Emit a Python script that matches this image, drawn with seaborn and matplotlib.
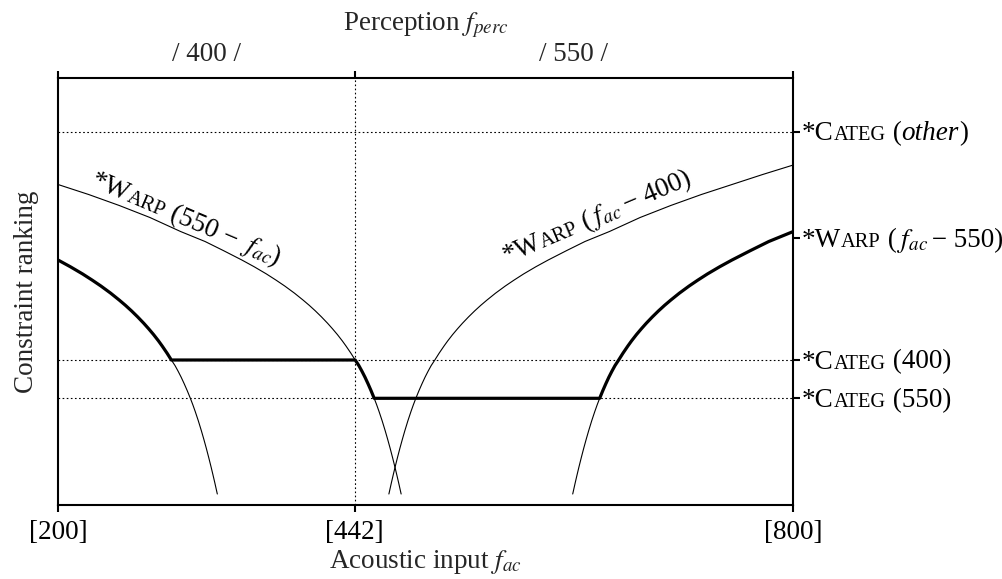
import numpy as np
import pandas as pd
import matplotlib
matplotlib.use("Agg")
import matplotlib.pyplot as plt
import seaborn as sns
from matplotlib.transforms import Affine2D, blended_transform_factory

# ---------------- data ----------------
# *WARP ranking as a function of the distance |f_ac - category| (Hz)
warp_distance = [70, 71, 72, 73.5, 75, 77, 79, 81, 83, 85.5, 88, 90, 92,
                 94.5, 97, 99.5, 102, 104.5, 107.5,
                 111, 115, 118, 122, 126, 130, 135, 140, 145, 150, 157, 165,
                 172, 180, 190, 200, 215, 230, 250, 275, 300, 325, 350, 375, 400]
warp_rank = [11, 16.5, 22, 29.9, 37.6, 47.4, 56.8, 65.7, 74.2, 84.2, 93.4, 100.3, 106.7,
             114.2, 121.2, 127.8, 133.8, 139.4, 145,
             151.8, 159, 164.1, 170.4, 176.2, 181.7, 188.1, 194.1, 199.7, 204.9, 211.8, 219,
             224.8, 231.1, 238.3, 245, 254.4, 263.5, 273.5, 287.5, 299.5, 310.5, 320.5, 330.5, 340]

categ_other = 373.3
categ_400 = 145
categ_550 = 106.7
warp_550_tick = 266.7

f_min, f_max = 200, 800
boundary = 442
categories = [400, 550]
x_tick_values = [200, 442, 800]
x_tick_labels = ["[200]", "[442]", "[800]"]

# ---------------- style ----------------
sns.set_theme(style="ticks")
plt.rcParams["font.family"] = ["Liberation Serif", "DejaVu Serif"]
plt.rcParams["mathtext.fontset"] = "stix"
FS = 19.5
SC = 0.75

W, H = 1003, 579
fig = plt.figure(figsize=(W / 100, H / 100), dpi=100)
fig.patch.set_facecolor("white")
ax = fig.add_axes([58 / W, (H - 505) / H, (793.3 - 58) / W, (505 - 78.3) / H])
ax.set_facecolor("white")

d = np.array(warp_distance, dtype=float)
r = np.array(warp_rank, dtype=float)

def curve(center, sign, dmax):
    m = d <= dmax
    f = center + sign * d[m]
    rr = r[m]
    o = np.argsort(f)
    return pd.DataFrame({"f": f[o], "rank": rr[o]})

thin_curves = [
    curve(550, -1, 550 - f_min),
    curve(400, -1, 400 - f_min),
    curve(400, +1, f_max - 400),
    curve(550, +1, f_max - 550),
]

dot = (0, (1.5, 2.2))
for lvl in [categ_other, categ_400, categ_550]:
    ax.axhline(lvl, color="black", lw=0.8, ls=dot, zorder=1)
ax.axvline(boundary, color="black", lw=0.8, ls=dot, zorder=1)

for c in thin_curves:
    sns.lineplot(data=c, x="f", y="rank", ax=ax, color="black", lw=0.8,
                 estimator=None, sort=False, zorder=2)

# optimal (winning) ranking path: thick line
d400 = d[r == categ_400][0]
d550 = d[r == categ_550][0]
m1 = (d >= d400) & (d <= 400 - f_min)
m2 = (d >= d550) & (d <= d400)
m3 = (d >= d550) & (d <= f_max - 550)
seg1 = pd.DataFrame({"f": 400 - d[m1], "rank": r[m1]})
seg2 = pd.DataFrame({"f": 550 - d[m2], "rank": r[m2]})
seg3 = pd.DataFrame({"f": 550 + d[m3], "rank": r[m3]})
thick = pd.concat([seg1, seg2, seg3]).sort_values("f").reset_index(drop=True)
sns.lineplot(data=thick, x="f", y="rank", ax=ax, color="black", lw=2.3,
             estimator=None, sort=False, zorder=3)

ax.set_xlim(f_min, f_max)
ax.set_ylim(0, 505 - 78.3)
ax.set_xlabel("")
ax.set_ylabel("")
ax.set_xticks(x_tick_values)
ax.set_xticklabels(x_tick_labels, fontsize=FS)
ax.yaxis.tick_right()
ax.set_yticks([categ_550, categ_400, warp_550_tick, categ_other])
ax.set_yticklabels([])
ax.tick_params(axis="x", which="both", direction="out", length=4.8, width=1.5,
               top=True, bottom=True, labeltop=False, pad=6, colors="black")
ax.tick_params(axis="y", direction="out", length=4.8, width=1.5, right=True,
               left=False, colors="black")
for s in ax.spines.values():
    s.set_visible(True)
    s.set_linewidth(1.5)
    s.set_color("black")

renderer = fig.canvas.get_renderer()

def text_width(s, fs, style):
    t1 = fig.text(0, 0, "|" + s + "|", fontsize=fs, style=style)
    t2 = fig.text(0, 0, "||", fontsize=fs, style=style)
    w = t1.get_window_extent(renderer).width - t2.get_window_extent(renderer).width
    t1.remove()
    t2.remove()
    if "$" in s:
        w += 2.0
    return w

def rich_text(x, y, pieces, base_transform, angle=0.0, dx=0.0, dy=0.0):
    a = np.deg2rad(angle)
    off = 0.0
    for s, scale, style in pieces:
        fs = FS * scale
        tr = base_transform + Affine2D().translate(dx + off * np.cos(a), dy + off * np.sin(a))
        ax.text(x, y, s, fontsize=fs, style=style, rotation=angle,
                rotation_mode="anchor", ha="left", va="baseline",
                transform=tr, clip_on=False, color="black")
        off += text_width(s, fs, style)

N = "normal"
I = "italic"
right_labels = [
    (categ_other, [("*C", 1, N), ("ATEG", SC, N), (" (", 1, N), ("other", 1, I), (")", 1, N)]),
    (warp_550_tick, [("*W", 1, N), ("ARP", SC, N), (" (", 1, N), ("$f_{ac}$", 1, N), (" \u2212 550)", 1, N)]),
    (categ_400, [("*C", 1, N), ("ATEG", SC, N), (" (400)", 1, N)]),
    (categ_550, [("*C", 1, N), ("ATEG", SC, N), (" (550)", 1, N)]),
]
bt = blended_transform_factory(ax.transAxes, ax.transData)
for lvl, pcs in right_labels:
    rich_text(1.0, lvl, pcs, bt, dx=8.4, dy=-8.6)

# curve labels
rich_text(226, 319, [("*W", 1, N), ("ARP", SC, N), (" (550 \u2212 ", 1, N), ("$f_{ac}$", 1, N), (")", 1, N)],
          ax.transData, angle=-23)
rich_text(566, 242, [("*W", 1, N), ("ARP", SC, N), (" (", 1, N), ("$f_{ac}$", 1, N), (" \u2212 400)", 1, N)],
          ax.transData, angle=23)

# top annotations
tb = blended_transform_factory(ax.transData, fig.transFigure)
ax.text((f_min + boundary) / 2, 1 - 61 / H, "/ %d /" % categories[0], transform=tb,
        ha="center", va="baseline", fontsize=FS, clip_on=False)
ax.text((boundary + f_max) / 2, 1 - 61 / H, "/ %d /" % categories[1], transform=tb,
        ha="center", va="baseline", fontsize=FS, clip_on=False)
fig.text(425.6 / W, 1 - 30.7 / H, "Perception $f_{perc}$", ha="center", va="baseline", fontsize=FS)
fig.text(425.6 / W, 1 - 568.3 / H, "Acoustic input $f_{ac}$", ha="center", va="baseline", fontsize=FS)
fig.text(33 / W, 1 - 291.7 / H, "Constraint ranking", rotation=90, rotation_mode="anchor",
         ha="center", va="baseline", fontsize=FS)

fig.savefig("out.png", dpi=100, facecolor="white")
